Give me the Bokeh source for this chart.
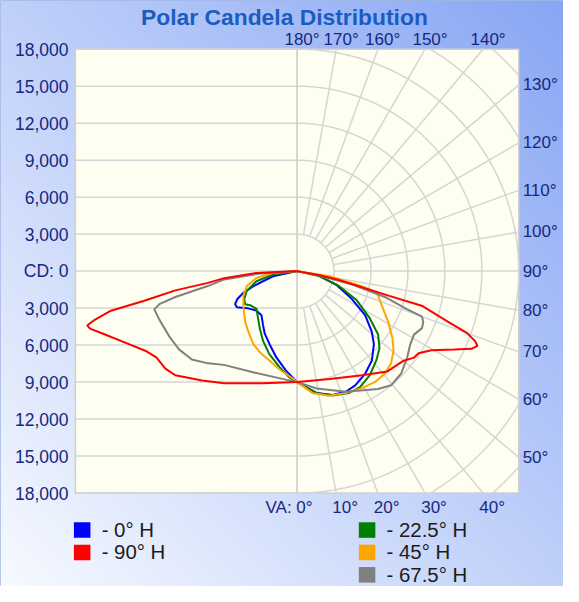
import numpy as np
from bokeh.plotting import figure
from bokeh.models import Range1d
from bokeh.core.properties import value
from bokeh.embed import file_html
from bokeh.resources import INLINE

# ---------------- data ----------------
title = "Polar Candela Distribution"
cd_levels = [3000, 6000, 9000, 12000, 15000, 18000]
top_angles = [180, 170, 160, 150, 140]
right_angles = [130, 120, 110, 100, 90, 80, 70, 60, 50]
bottom_angles = [0, 10, 20, 30, 40]

series_names = ["- 0° H", "- 22.5° H", "- 45° H", "- 67.5° H", "- 90° H"]
series_colors = ["#0000ff", "#008000", "#ffa500", "#808080", "#ff0000"]

# 0° H  (right half) / opposite plane (left half): vertical angle (deg), candela
h0_right_va = [0, 9, 16, 22, 27, 33.5, 40, 46.5, 51, 57, 63, 71, 79.5, 90]
h0_right_cd = [9000, 10000, 10450, 10550, 10400, 10000, 9450, 8600, 7800, 6600, 5000, 3350, 1600, 0]
h0_left_va = [0, 6.5, 13.5, 20.5, 27.5, 32.5, 39, 46, 53.5, 59, 62, 65, 68, 71, 78, 90]
h0_left_cd = [9000, 8100, 7200, 6350, 5700, 5150, 4600, 4600, 5050, 5700, 5700, 5350, 4700, 3750, 2000, 0]

# 22.5° H
h22_right_va = [0, 9, 16, 23, 28.5, 35, 41.5, 47, 52, 57, 64, 70.5, 77, 90]
h22_right_cd = [9000, 10000, 10500, 10750, 10700, 10300, 9700, 9150, 8350, 7050, 5400, 3600, 1900, 0]
h22_left_va = [0, 4.5, 10.5, 18.5, 26, 33, 40.5, 47, 54, 57.5, 62, 68.5, 76, 81.5, 90]
h22_left_cd = [9000, 8600, 7900, 7100, 6300, 5550, 4900, 4500, 4700, 5000, 4850, 4400, 3400, 2000, 0]

# 45° H
h45_right_va = [0, 7.5, 14.5, 22, 29, 35, 40.5, 45.5, 50.5, 55, 61, 66.5, 73, 75, 77, 81, 90]
h45_right_cd = [9000, 10000, 10450, 10650, 10850, 11000, 10950, 10700, 10150, 9450, 8450, 7600, 6900, 6700, 5400, 2650, 0]
h45_left_va = [0, 2.5, 9.5, 17, 24.5, 31, 39, 45.5, 55, 65.5, 73.5, 80.5, 85.5, 90]
h45_left_cd = [9000, 8700, 8150, 7600, 7250, 6900, 6300, 5900, 5300, 4800, 4250, 3350, 2000, 0]

# 67.5° H
h67_right_va = [0, 9.5, 22, 34.5, 39.5, 45.5, 52, 57, 61.5, 65.5, 68, 70, 71, 73.5, 76.5, 78.5, 90]
h67_right_cd = [9000, 9650, 10550, 11600, 12000, 11850, 11350, 10950, 10800, 11150, 11050, 10800, 9300, 7550, 4450, 2000, 0]
h67_left_va = [0, 6, 23.5, 38, 44, 50, 56.5, 63, 70.5, 75, 76.5, 78, 80.5, 83.5, 86, 90]
h67_left_cd = [9000, 8850, 8950, 9650, 10400, 11150, 11500, 11650, 11850, 12000, 11500, 10100, 7350, 5950, 3150, 0]

# 90° H
h90_right_va = [0, 17, 32, 42, 50, 53.5, 56, 59.5, 63.5, 66, 67.5, 68.5, 70, 71.5, 74.5, 75, 78, 79.5, 90]
h90_right_cd = [9000, 9150, 9950, 10950, 11300, 11800, 11900, 12650, 14250, 15500, 15850, 15550, 14700, 12900, 10500, 7750, 3400, 2000, 0]
h90_left_va = [0, 17, 33, 41, 49.5, 53.5, 58.5, 62, 67, 72, 74.5, 75.5, 76.5, 78, 79, 81, 82.5, 84.5, 87.5, 90]
h90_left_cd = [9000, 9500, 10850, 11750, 13000, 13300, 13400, 13850, 15000, 16500, 17450, 17600, 16900, 15450, 12700, 10000, 7300, 5950, 3300, 0]

series = [
    (h0_right_va, h0_right_cd, h0_left_va, h0_left_cd),
    (h22_right_va, h22_right_cd, h22_left_va, h22_left_cd),
    (h45_right_va, h45_right_cd, h45_left_va, h45_left_cd),
    (h67_right_va, h67_right_cd, h67_left_va, h67_left_cd),
    (h90_right_va, h90_right_cd, h90_left_va, h90_left_cd),
]

# ---------------- layout helpers ----------------
RW, RH = 579, 602        # reference layout size (px)
W, H = 563, 586          # canvas size
S = W / RW               # layout scale
K = 38 / 3000.0          # reference px per candela
CX, CY = 305, 278        # reference position of the pole
R = 18000                # half size of square plot area (cd)


def X(px):
    return (px - CX) / K


def Y(py):
    return (CY - py) / K


def fs(px):
    return value(f"{px * S:.2f}px")


p = figure(width=W, height=H, x_range=Range1d(X(0), X(RW)), y_range=Range1d(Y(RH), Y(0)),
           output_backend="svg", toolbar_location=None, x_axis_type=None, y_axis_type=None,
           min_border=0)
p.outline_line_color = "#a3b8e6"
p.background_fill_color = "white"
p.border_fill_color = "white"

# gradient panel background
yy, xx = np.mgrid[0:H, 0:W]
t = (xx / (W - 1) + yy / (H - 1)) / 2.0
c0 = np.array([247, 250, 255], float)
c1 = np.array([136, 166, 244], float)
img = np.empty((H, W), dtype=np.uint32)
view = img.view(dtype=np.uint8).reshape((H, W, 4))
for i in range(3):
    view[:, :, i] = (c0[i] + (c1[i] - c0[i]) * t).astype(np.uint8)
view[:, :, 3] = 255
p.image_rgba(image=[img], x=X(0), y=Y(RH), dw=X(RW) - X(0), dh=Y(0) - Y(RH))

# plot square
p.quad(left=[-R], right=[R], bottom=[-R], top=[R], fill_color="#fefef1",
       line_color="#cfcfcf", line_width=1.5)

grid_col = "#d5d5d5"
# left half horizontal lines
hy = [0] + cd_levels + [-v for v in cd_levels]
p.segment(x0=[-R] * len(hy), x1=[0] * len(hy), y0=hy, y1=hy, line_color=grid_col, line_width=1.5)
# vertical axis line
p.segment(x0=[0], x1=[0], y0=[-R], y1=[R], line_color="#c8c8c8", line_width=1.5)

# right half circles
xs_all, ys_all = [], []
th = np.radians(np.linspace(0, 180, 1441))
for r in range(3000, 24001, 3000):
    x = r * np.sin(th)
    y = -r * np.cos(th)
    m = (np.abs(x) <= R) & (np.abs(y) <= R)
    xs_all.extend(list(np.where(m, x, np.nan)) + [np.nan])
    ys_all.extend(list(np.where(m, y, np.nan)) + [np.nan])
p.line(xs_all, ys_all, line_color=grid_col, line_width=1.5)

# radial lines
x0, y0, x1, y1 = [], [], [], []
for a in range(10, 171, 10):
    ar = np.radians(a)
    s, c = np.sin(ar), -np.cos(ar)
    rend = min(R / abs(s) if abs(s) > 1e-9 else 1e9, R / abs(c) if abs(c) > 1e-9 else 1e9)
    x0.append(3000 * s); y0.append(3000 * c)
    x1.append(rend * s); y1.append(rend * c)
p.segment(x0=x0, y0=y0, x1=x1, y1=y1, line_color=grid_col, line_width=1.5)

# curves
for (rva, rcd, lva, lcd), col in zip(series, series_colors):
    ra = np.radians(rva)
    rc = np.array(rcd, float)
    la = np.radians(lva)[::-1]
    lc = np.array(lcd, float)[::-1]
    xs = np.concatenate([rc * np.sin(ra), -lc * np.sin(la)])
    ys = np.concatenate([-rc * np.cos(ra), -lc * np.cos(la)])
    p.line(xs, ys, line_color=col, line_width=2)

# ---------------- texts ----------------
font = value("Liberation Sans")
lab_col = "#16287f"

p.text(x=[X(292)], y=[Y(17)], text=[title], text_font=font, text_font_style="bold",
       text_font_size=fs(23.5), text_color="#1b5cc0", text_align="center", text_baseline="middle")

# CD labels on the left
ly, lt = [], []
for v in cd_levels:
    ly += [v, -v]
    lt += [f"{v:,}", f"{v:,}"]
ly.append(0)
lt.append("CD: 0")
p.text(x=[X(70)] * len(ly), y=ly, text=lt, text_font=font, text_font_size=fs(18),
       text_color=lab_col, text_align="right", text_baseline="middle")

# top angle labels
tx = [R * np.tan(np.radians(180 - a)) - 13 / K for a in top_angles]
p.text(x=tx, y=[Y(40)] * len(tx), text=[f"{a}°" for a in top_angles], text_font=font,
       text_font_size=fs(17.5), text_color=lab_col, text_align="left", text_baseline="middle")

# right angle labels
ry = [-R * np.cos(np.radians(a)) / np.sin(np.radians(a)) for a in right_angles]
p.text(x=[X(537)] * len(ry), y=ry, text=[f"{a}°" for a in right_angles], text_font=font,
       text_font_size=fs(17.5), text_color=lab_col, text_align="left", text_baseline="middle")

# bottom angle labels
bx = [R * np.tan(np.radians(a)) - 4 / K for a in bottom_angles[1:]]
p.text(x=bx, y=[Y(521)] * len(bx), text=[f"{a}°" for a in bottom_angles[1:]], text_font=font,
       text_font_size=fs(17.5), text_color=lab_col, text_align="left", text_baseline="middle")
p.text(x=[16 / K], y=[Y(521)], text=[f"VA: {bottom_angles[0]}°"], text_font=font,
       text_font_size=fs(17.5), text_color=lab_col, text_align="right", text_baseline="middle")

# legend
legend_order = [0, 4, 1, 2, 3]
legend_pos = [(84, 544), (84, 567), (377, 544), (377, 567), (377, 590)]
for idx, (px, py) in zip(legend_order, legend_pos):
    p.rect(x=[X(px)], y=[Y(py)], width=17 * S, height=16 * S, width_units="screen",
           height_units="screen", fill_color=series_colors[idx], line_color=None)
    p.text(x=[X(px + 20)], y=[Y(py)], text=[series_names[idx]], text_font=font,
           text_font_size=fs(21), text_color="#1c1c1c", text_align="left", text_baseline="middle")

open("out.html", "w").write(file_html(p, INLINE))
